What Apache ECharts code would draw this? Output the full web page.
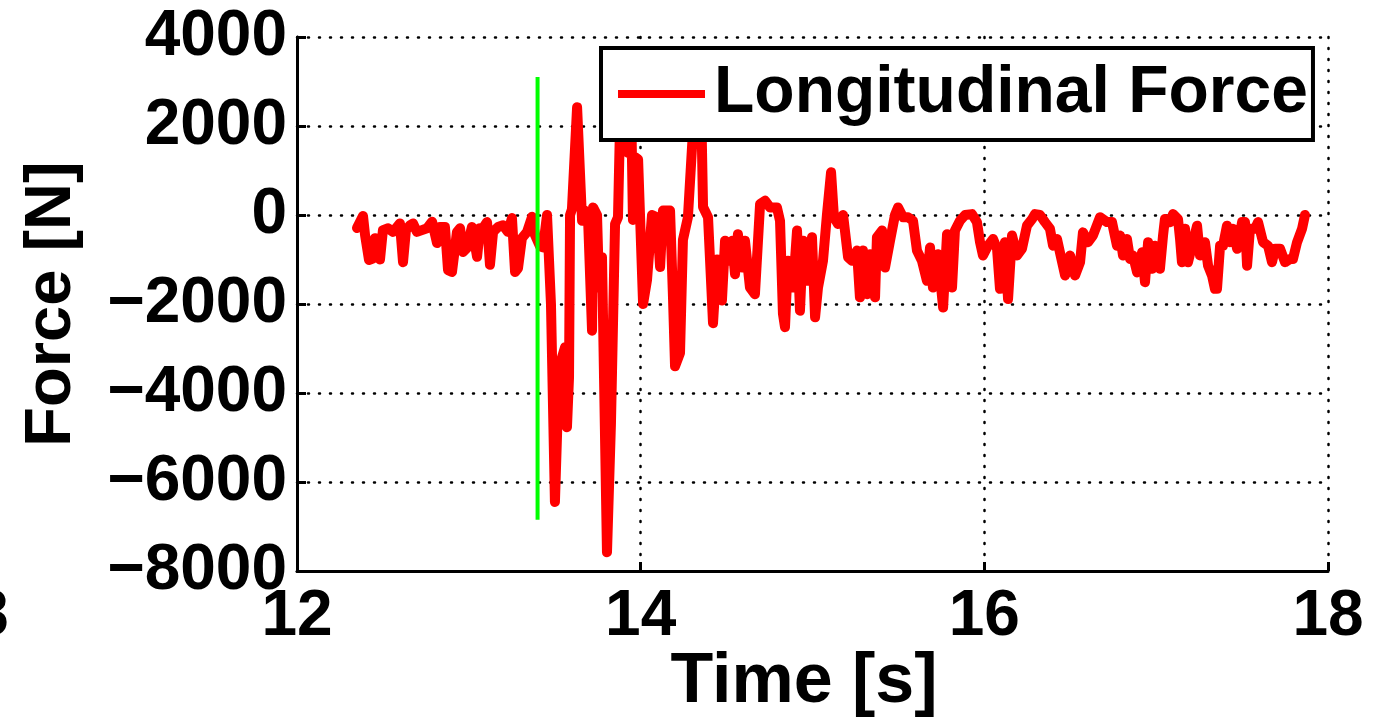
<!DOCTYPE html>
<html>
<head>
<meta charset="utf-8">
<script src="https://cdn.jsdelivr.net/npm/echarts@6/dist/echarts.min.js"></script>
<style>html,body{margin:0;padding:0;background:#fff;}#c{width:1374px;height:725px;}</style>
</head>
<body>
<div id="c"></div>
<script>
const seriesName = 'Longitudinal Force';
const xTicks = [12, 14, 16, 18];
const yTicks = [-8000, -6000, -4000, -2000, 0, 2000, 4000];
const time = [
12.349,12.384,12.396,12.419,12.442,12.454,12.483,12.500,12.530,12.559,
12.599,12.617,12.634,12.658,12.675,12.698,12.727,12.757,12.786,12.815,
12.832,12.861,12.879,12.902,12.931,12.949,12.966,12.989,13.018,13.048,
13.065,13.082,13.106,13.123,13.141,13.170,13.199,13.228,13.251,13.269,
13.286,13.309,13.339,13.368,13.385,13.414,13.432,13.455,13.478,13.501,
13.525,13.542,13.560,13.571,13.583,13.589,13.600,13.630,13.659,13.676,
13.694,13.717,13.723,13.746,13.758,13.775,13.804,13.827,13.851,13.868,
13.880,13.903,13.926,13.944,13.955,13.967,13.985,14.014,14.037,14.066,
14.095,14.113,14.130,14.171,14.188,14.200,14.229,14.246,14.275,14.299,
14.316,14.334,14.351,14.363,14.392,14.421,14.444,14.473,14.491,14.508,
14.532,14.549,14.566,14.590,14.607,14.636,14.665,14.695,14.724,14.753,
14.793,14.811,14.828,14.840,14.857,14.887,14.910,14.927,14.945,14.968,
14.997,15.015,15.032,15.061,15.084,15.108,15.125,15.148,15.178,15.207,
15.230,15.259,15.276,15.294,15.317,15.335,15.364,15.375,15.405,15.422,
15.451,15.480,15.498,15.527,15.556,15.585,15.608,15.637,15.666,15.684,
15.701,15.730,15.760,15.783,15.812,15.829,15.858,15.888,15.928,15.957,
15.975,15.992,16.021,16.051,16.074,16.091,16.120,16.138,16.161,16.190,
16.219,16.248,16.278,16.295,16.324,16.353,16.382,16.400,16.423,16.440,
16.470,16.499,16.528,16.557,16.574,16.603,16.632,16.673,16.714,16.743,
16.772,16.790,16.807,16.830,16.848,16.865,16.889,16.918,16.935,16.953,
16.976,16.993,17.022,17.040,17.051,17.081,17.098,17.127,17.139,17.150,
17.168,17.185,17.209,17.238,17.255,17.284,17.302,17.325,17.342,17.354,
17.372,17.389,17.412,17.430,17.447,17.471,17.500,17.517,17.529,17.546,
17.575,17.593,17.622,17.651,17.674,17.692,17.721,17.750,17.779,17.796,
17.820,17.849,17.866
];
const force = [
-290,-20,-450,-1010,-980,-520,-1000,-340,-300,-380,
-190,-1060,-340,-230,-190,-380,-340,-300,-150,-630,
-270,-270,-1240,-1280,-380,-300,-830,-740,-270,-940,
-300,-300,-160,-1120,-380,-270,-230,-380,-70,-1280,
-1200,-520,-380,-40,-450,-700,-730,0,-2000,-6450,
-3500,-3200,-2970,-4770,-3650,0,130,2420,-130,100,
-100,-2600,170,0,-1630,-950,-7580,-4700,-200,-50,
2050,2800,1400,2600,-110,1300,1250,-2000,-1460,0,
-50,-1170,100,100,-1840,-3400,-3100,-560,-50,1530,
2600,1900,2700,180,-50,-2430,-1000,-1920,-580,-1030,
-580,-1330,-430,-1180,-580,-1630,-1780,250,320,170,
170,-130,-2220,-2520,-1030,-1630,-350,-2150,-580,-1480,
-500,-2300,-1630,-1030,0,960,-50,-200,0,-950,
-1030,-800,-1850,-800,-1780,-880,-1850,-500,-350,-1180,
-580,0,170,-50,-50,-130,-800,-1030,-1480,-730,
-1630,-880,-2080,-430,-1630,-350,-130,0,20,-160,
-610,-910,-690,-540,-760,-1660,-610,-1890,-460,-910,
-760,-240,-90,20,0,-160,-310,-690,-540,-840,
-1360,-910,-1360,-1060,-390,-610,-460,-50,-160,-160,
-690,-460,-910,-540,-990,-910,-1290,-840,-1510,-610,
-1210,-690,-1210,-460,-90,-160,20,-90,-540,-1060,
-310,-1060,-690,-240,-910,-610,-1140,-1360,-1660,-1660,
-690,-690,-240,-610,-310,-760,-160,-160,-1140,-310,
-310,-160,-610,-690,-1060,-760,-760,-1060,-990,-990,
-610,-310,0
];
const markerTime = [13.40, 13.40];
const markerForce = [3100, -6850];

const FONT = '"Liberation Sans", Arial, Helvetica, sans-serif';
const fmt = v => (v < 0 ? '\u2212' + Math.abs(v) : String(v));

const chart = echarts.init(document.getElementById('c'), null, {renderer: 'canvas'});
const dotted = {color: '#000', width: 2.5, type: [1, 10], cap: 'round'};
chart.setOption({
  backgroundColor: '#fff',
  animation: false,
  grid: {left: 297, right: 46, top: 37, bottom: 154, containLabel: false},
  xAxis: {
    type: 'value', min: xTicks[0], max: xTicks[xTicks.length - 1], interval: 2,
    axisLine: {show: true, onZero: false, lineStyle: {color: '#000', width: 3}},
    axisTick: {show: true, inside: true, length: 9, lineStyle: {color: '#000', width: 3}},
    axisLabel: {color: '#000', fontFamily: FONT, fontWeight: 'bold', fontSize: 64, margin: 14,
      showMinLabel: true, showMaxLabel: true},
    splitLine: {show: true, lineStyle: dotted}
  },
  yAxis: {
    type: 'value', min: yTicks[0], max: yTicks[yTicks.length - 1], interval: 2000,
    axisLine: {show: true, onZero: false, lineStyle: {color: '#000', width: 3}},
    axisTick: {show: true, inside: true, length: 9, lineStyle: {color: '#000', width: 3}},
    axisLabel: {color: '#000', fontFamily: FONT, fontWeight: 'bold', fontSize: 64, margin: 10,
      formatter: fmt, showMinLabel: true, showMaxLabel: true, padding: [8, 0, 0, 0]},
    splitLine: {show: true, lineStyle: dotted}
  },
  legend: {
    data: [seriesName],
    left: 601, top: 48,
    backgroundColor: '#fff', borderColor: '#000', borderWidth: 4, borderRadius: 0,
    padding: [13, 5, 13, 17],
    icon: 'rect', itemWidth: 87, itemHeight: 8, itemGap: 0,
    textStyle: {color: '#000', fontFamily: FONT, fontWeight: 'bold', fontSize: 66, lineHeight: 64, padding: [0, 0, 0, 4]}
  },
  graphic: [
    {type: 'text', x: 804, y: 683, style: {text: 'Time [s]', font: 'bold 70px ' + FONT, fill: '#000', textAlign: 'center', textVerticalAlign: 'middle'}},
    {type: 'text', x: 52, y: 304, rotation: Math.PI / 2, style: {text: 'Force [N]', font: 'bold 65px ' + FONT, fill: '#000', textAlign: 'center', textVerticalAlign: 'middle'}},
    {type: 'text', x: -27, y: 617, style: {text: '8', font: 'bold 64px ' + FONT, fill: '#000', textAlign: 'left', textVerticalAlign: 'middle'}}
  ],
  series: [
    {
      name: seriesName, type: 'line', data: time.map((t, i) => [t, force[i]]),
      showSymbol: false, symbol: 'none', smooth: false,
      lineStyle: {color: '#ff0000', width: 10, join: 'round', cap: 'round'},
      itemStyle: {color: '#ff0000'}, z: 2
    },
    {
      name: 'marker', type: 'line', data: markerTime.map((t, i) => [t, markerForce[i]]),
      showSymbol: false, symbol: 'none',
      lineStyle: {color: '#00ff00', width: 4}, itemStyle: {color: '#00ff00'}, z: 3
    }
  ]
});
</script>
</body>
</html>
